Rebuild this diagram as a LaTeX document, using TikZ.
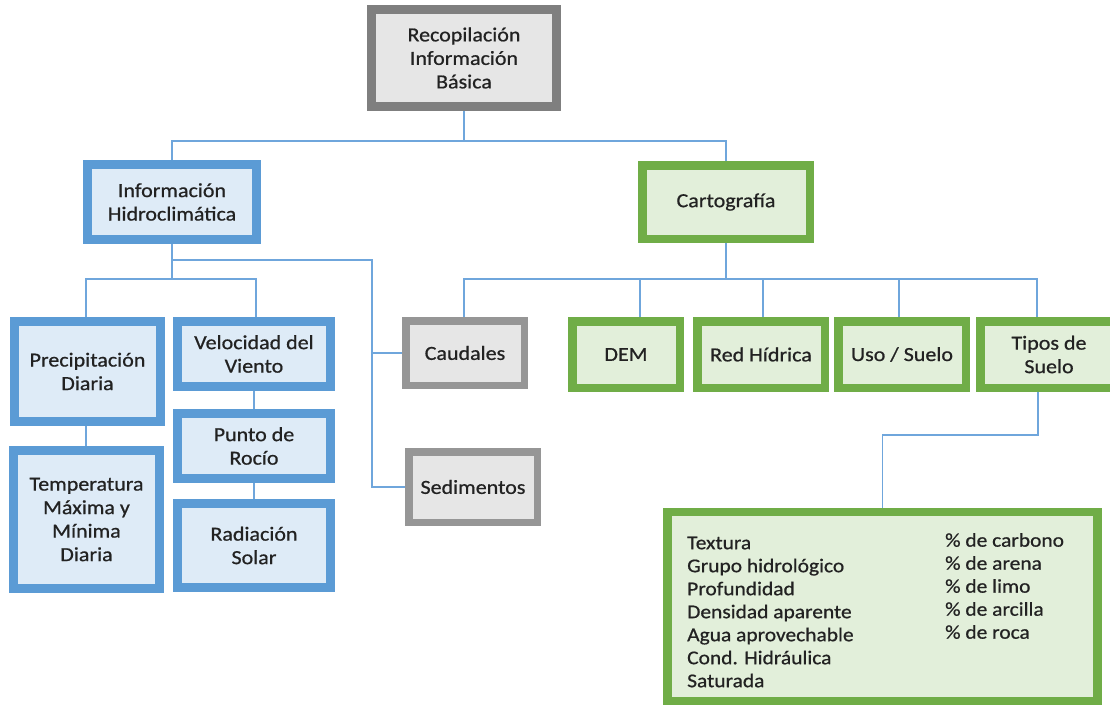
\documentclass[tikz,border=0pt]{standalone}
\usepackage{fontspec}
\setmainfont[FakeStretch=1.1,FakeBold=0.7]{Carlito}
\definecolor{bblue}{HTML}{5B9BD5}
\definecolor{bfill}{HTML}{DEEBF7}
\definecolor{ggreen}{HTML}{70AD47}
\definecolor{gfill}{HTML}{E2EFDA}
\definecolor{dgray}{HTML}{7F7F7F}
\definecolor{lgray}{HTML}{969696}
\definecolor{grfill}{HTML}{E6E6E6}
\definecolor{txt}{HTML}{222222}
\definecolor{cline}{HTML}{6FA6DC}
\begin{document}
\begin{tikzpicture}[x=1pt,y=-1pt,
  base/.style={inner sep=0pt, align=center, text=txt, font=\fontsize{20}{23.5}\selectfont},
  bluebox/.style={base, draw=bblue, fill=bfill, line width=9pt},
  greenbox/.style={base, draw=ggreen, fill=gfill, line width=8.5pt},
  graybox/.style={base, draw=dgray, fill=grfill, line width=9pt},
  lgraybox/.style={base, draw=lgray, fill=grfill, line width=7.5pt},
  conn/.style={draw=cline, line width=1.4pt},
  props/.style={inner sep=0pt, align=left, text=txt, font=\fontsize{19.5}{23}\selectfont, anchor=west}]
\fill[white] (0,0) rectangle (1110,706);
\useasboundingbox (0,0) rectangle (1110,706);
% boxes
\node[graybox, minimum width=185pt, minimum height=97pt] (root) at (464,58) {Recopilación\\Información\\Básica};
\node[bluebox, minimum width=169pt, minimum height=75pt] (hidro) at (172,202) {Información\\Hidroclimática};
\node[greenbox, minimum width=167.5pt, minimum height=73.5pt] (carto) at (726,202) {Cartografía};
\node[bluebox, minimum width=146pt, minimum height=100pt] (precip) at (87.5,371.5) {Precipitación\\Diaria};
\node[bluebox, minimum width=153pt, minimum height=65pt] (vel) at (254,354) {Velocidad del\\Viento};
\node[bluebox, minimum width=153pt, minimum height=65pt] (punto) at (254,446) {Punto de\\Rocío};
\node[bluebox, minimum width=153pt, minimum height=84pt] (rad) at (254,545.5) {Radiación\\Solar};
\node[bluebox, minimum width=146pt, minimum height=138pt] (temp) at (86.5,519.5) {Temperatura\\Máxima y\\Mínima\\Diaria};
\node[lgraybox, minimum width=118.5pt, minimum height=64.5pt] (caud) at (465,353) {Caudales};
\node[lgraybox, minimum width=128.5pt, minimum height=70.5pt] (sed) at (473,487) {Sedimentos};
\node[greenbox, minimum width=107.5pt, minimum height=66.5pt] (dem) at (626,354.5) {DEM};
\node[greenbox, minimum width=127.5pt, minimum height=66.5pt] (red) at (761,354.5) {Red Hídrica};
\node[greenbox, minimum width=127.5pt, minimum height=66.5pt] (uso) at (902,354.5) {Uso / Suelo};
\node[greenbox, minimum width=137.5pt, minimum height=66.5pt] (tipos) at (1049,354.5) {Tipos de\\Suelo};
\node[greenbox, minimum width=430pt, minimum height=189pt] (big) at (882.5,606.5) {};
\node[props] (propsL) at (687,612) {Textura\\Grupo hidrológico\\Profundidad\\Densidad aparente\\Agua aprovechable\\Cond. Hidráulica\\Saturada};
\node[props] (propsR) at (945,586) {\% de carbono\\\% de arena\\\% de limo\\\% de arcilla\\\% de roca};
% connectors
\coordinate (rj) at (464,141);
\draw[conn] (root.south) -- (rj);
\draw[conn] (hidro.north) |- (rj) -| (carto.north);
\coordinate (hA) at (172,260);
\coordinate (hB) at (172,279);
\coordinate (sv) at (372,260);
\draw[conn] (hidro.south) -- (hB);
\draw[conn] ([xshift=-1.5pt]precip.north) |- (hB) -| ([xshift=2pt]vel.north);
\draw[conn] (hA) -- (sv) |- (sed.west);
\draw[conn] (sv |- caud.west) -- (caud.west);
\draw[conn] ([xshift=-1.5pt]precip.south) -- ([xshift=-1.5pt]precip.south |- temp.north);
\draw[conn] (vel.south) -- (punto.north);
\draw[conn] (punto.south) -- (rad.north);
\coordinate (cj) at (726,279);
\draw[conn] (carto.south) -- (cj);
\draw[conn] ([xshift=-1pt]caud.north) |- (cj) -| ([xshift=-12pt]tipos.north);
\draw[conn] ([xshift=14pt]dem.north) -- ([xshift=14pt]dem.north |- cj);
\draw[conn] ([xshift=2pt]red.north) -- ([xshift=2pt]red.north |- cj);
\draw[conn] ([xshift=-3pt]uso.north) -- ([xshift=-3pt]uso.north |- cj);
\draw[conn] ([xshift=-11pt]tipos.south) -- ++(0,43) -| (big.north);
\end{tikzpicture}
\end{document}
